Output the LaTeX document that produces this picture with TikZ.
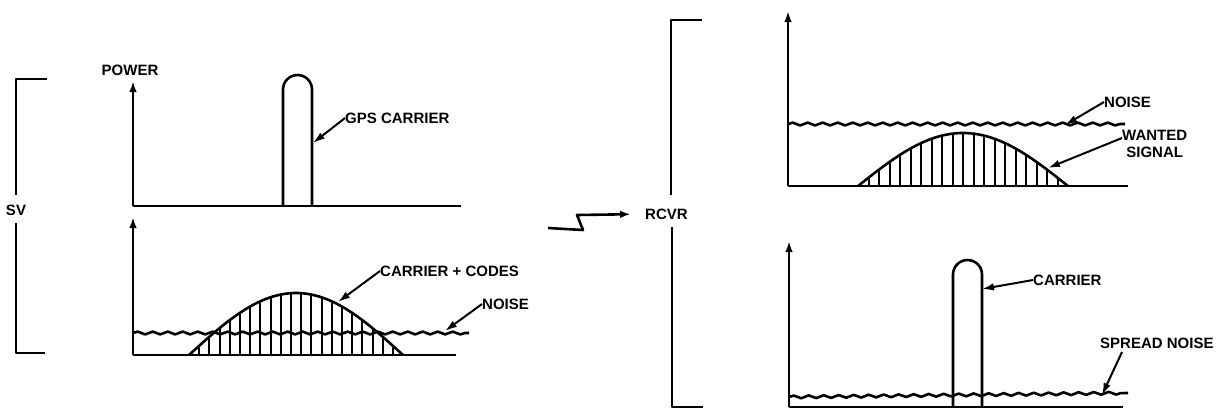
\documentclass[tikz,border=0pt]{standalone}
\usepackage{fontspec}
\setmainfont{Liberation Sans}
\usetikzlibrary{arrows.meta,decorations.pathmorphing}
\tikzset{
  ln/.style={line width=2.6pt, line join=round},
  axisarrow/.style={ln,-{Latex[length=11pt,width=7.5pt]}},
  lblarrow/.style={line width=2pt,-{Latex[length=12pt,width=7.5pt]}},
  lbl/.style={font=\fontsize{15}{17}\selectfont\bfseries, inner sep=0pt},
  noise/.style={ln, decorate, decoration={snake, amplitude=1.4pt, segment length=15pt}},
  hatch/.style={line width=2pt},
}
\begin{document}
\begin{tikzpicture}[x=1pt,y=-1pt]
\useasboundingbox (0,0) rectangle (1225,410);

% ---------- SV bracket ----------
\node[lbl] (sv) at (16,210) {SV};
\draw[ln] (47,79) -- (16,79) -- (16,195);
\draw[ln] (16,223) -- (16,353) -- (45,353);

% ---------- top-left plot ----------
\node[lbl] (power) at (130,70) {POWER};
\coordinate (tlo) at (133,206);
\coordinate (tltip) at (133,81);
\draw[axisarrow] (tlo) -- (tltip);
\draw[ln] (tlo) -- (461,206);
\draw[ln] (283,206) -- (283,89.5) arc[start angle=180, end angle=0, radius=14.5pt] -- (312,206);
\node[lbl, anchor=west] (gps) at (345,118) {GPS CARRIER};
\coordinate (gpstip) at (313,143);
\draw[lblarrow] (gps.west) -- (gpstip);

% ---------- bottom-left plot ----------
\coordinate (blo) at (133,355);
\coordinate (bltip) at (133,217);
\draw[axisarrow] (blo) -- (bltip);
\draw[ln] (blo) -- (456,355);
\draw[ln] plot[domain=0:1, samples=50, smooth] ({189+214*\x},{355-62*sin(180*\x)});
\foreach \i in {1,...,20} {
  \pgfmathsetmacro\xx{189+\i*10.2}
  \pgfmathsetmacro\yy{355-62*sin((\xx-189)/214*180)}
  \draw[hatch] (\xx,355) -- (\xx,\yy);
}
\draw[noise] (133,333) -- (469,333);
\node[lbl, anchor=west] (cc) at (380,271) {CARRIER + CODES};
\coordinate (cctip) at (338,302);
\draw[lblarrow] (cc.west) -- (cctip);
\node[lbl, anchor=west] (noisel) at (482,304) {NOISE};
\coordinate (nltip) at (445,331);
\draw[lblarrow] (noisel.west) -- (nltip);

% ---------- link arrow ----------
\coordinate (z0) at (548,228);
\node[lbl, anchor=west] (rcvr) at (645,214) {RCVR};
\draw[ln,-{Latex[length=11pt,width=7.5pt]}, shorten >=14pt] (z0) -- (583,230) -- (577,215) -- (rcvr.west);

% ---------- RCVR bracket ----------
\draw[ln] (702,20) -- (671,20) -- (671,195);
\draw[ln] (672,227) -- (672,407) -- (703,407);

% ---------- top-right plot ----------
\coordinate (tro) at (788,186);
\coordinate (trtip) at (788,11);
\draw[axisarrow] (tro) -- (trtip);
\draw[ln] (tro) -- (1128,186);
\draw[ln] plot[domain=0:1, samples=50, smooth] ({858+210*\x},{186-53*sin(180*\x)});
\foreach \i in {1,...,19} {
  \pgfmathsetmacro\xx{858+\i*10.5}
  \pgfmathsetmacro\yy{186-53*sin((\xx-858)/210*180)}
  \draw[hatch] (\xx,186) -- (\xx,\yy);
}
\draw[noise] (788,124) -- (1125,124);
\node[lbl, anchor=west] (noiser) at (1104,102) {NOISE};
\coordinate (nrtip) at (1065,125);
\draw[lblarrow] (noiser.west) -- (nrtip);
\node[lbl, anchor=north west, align=center] (wanted) at (1122,130) {WANTED\\SIGNAL};
\coordinate (wtip) at (1048,168);
\draw[lblarrow] (1122,138) -- (wtip);

% ---------- bottom-right plot ----------
\coordinate (bro) at (789,407);
\coordinate (brtip) at (789,241);
\draw[axisarrow] (bro) -- (brtip);
\draw[ln] (bro) -- (1123,407);
\draw[ln] (953,407) -- (953,274.5) arc[start angle=180, end angle=0, radius=14.5pt] -- (982,407);
\draw[noise] (789,397) -- (1128,393);
\node[lbl, anchor=west] (carr) at (1033,280) {CARRIER};
\coordinate (ctip) at (982,289);
\draw[lblarrow] (carr.west) -- (ctip);
\node[lbl, anchor=west] (spread) at (1100,343) {SPREAD NOISE};
\coordinate (stip) at (1102,395);
\draw[lblarrow] (1122,352) -- (stip);
\end{tikzpicture}
\end{document}
